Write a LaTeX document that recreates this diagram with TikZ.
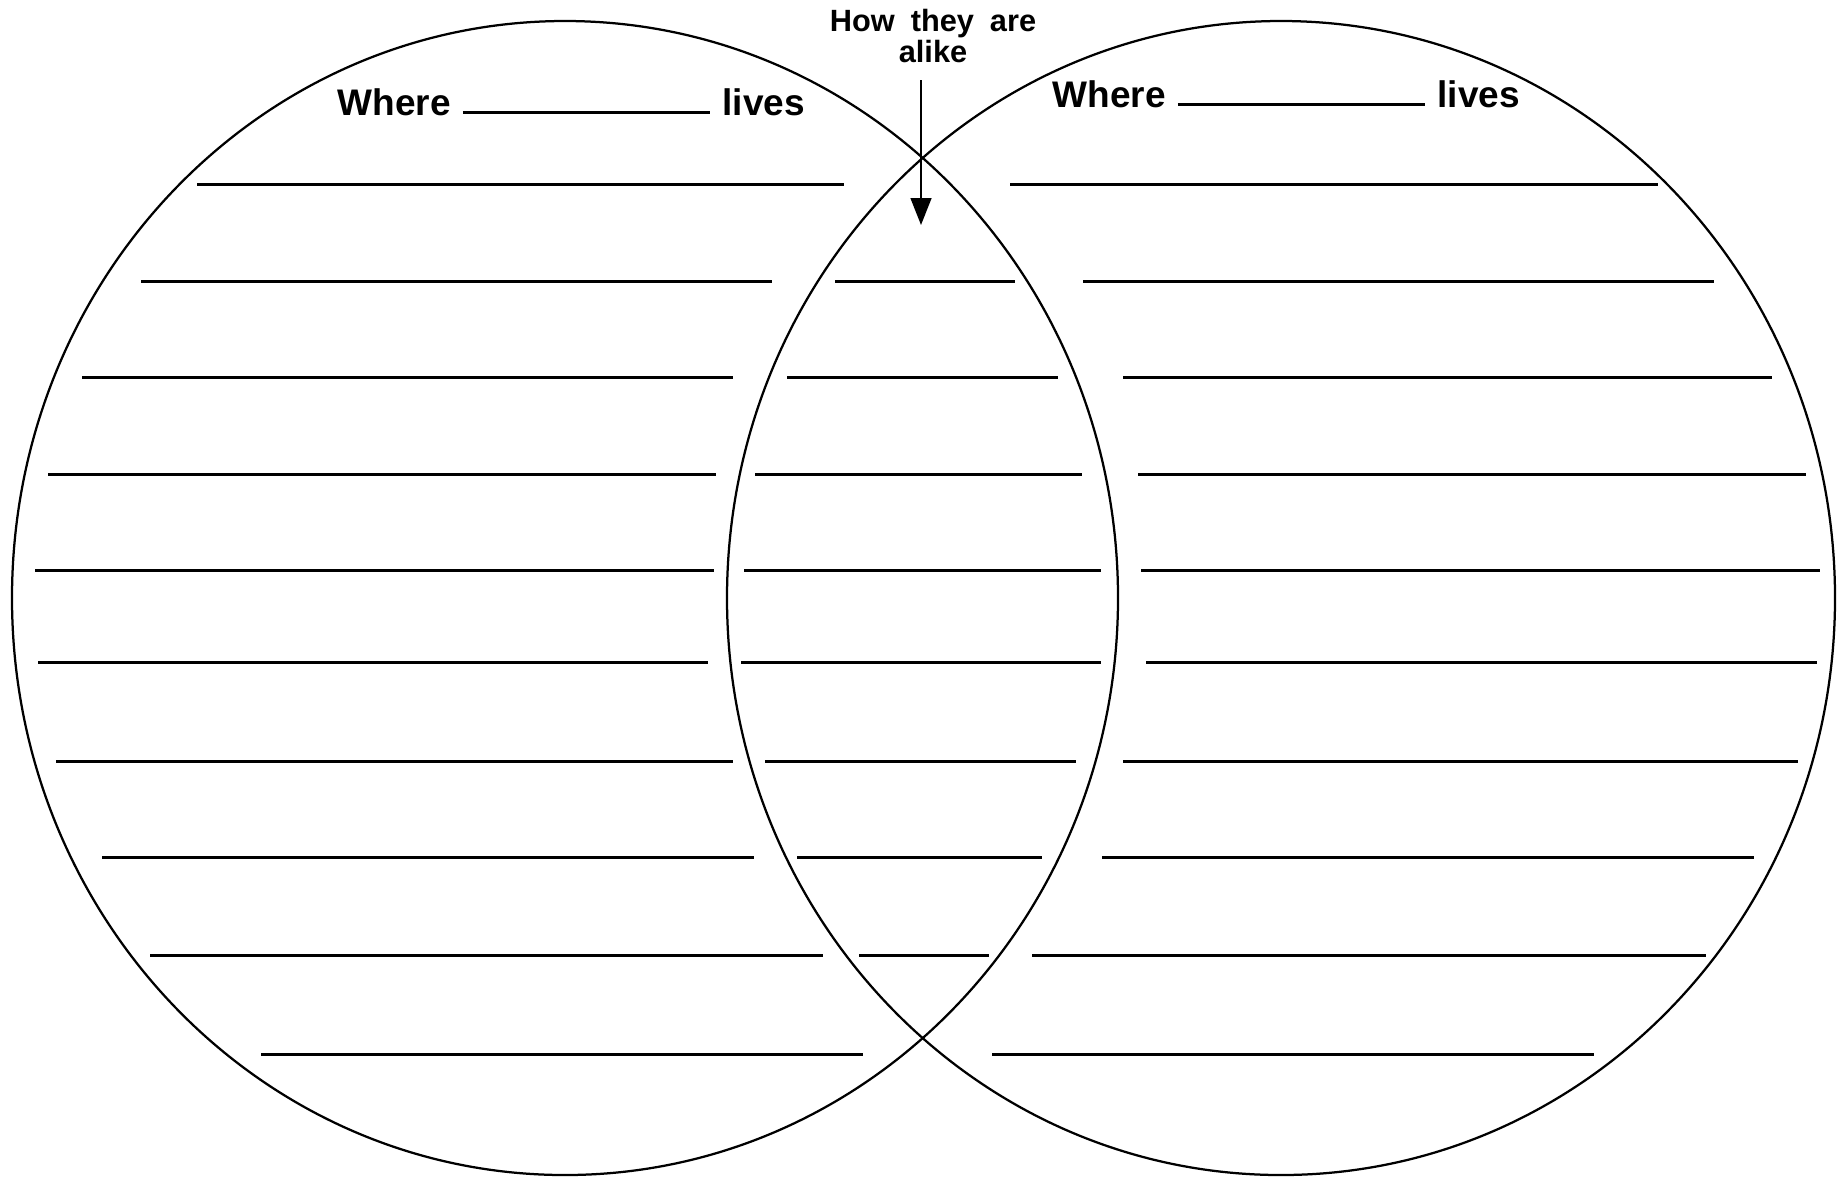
\documentclass[tikz,border=0pt]{standalone}
\usepackage{fontspec}
\setmainfont{Liberation Sans}
\usetikzlibrary{arrows.meta}

\begin{document}
\begin{tikzpicture}[
  x = 0.4pt, y = -0.4pt,
  venn/.style      = {line width=0.9pt},
  wline/.style     = {line width=1.2pt},
  heading/.style   = {anchor=base west, inner sep=0pt,
                      font=\fontsize{14.8}{17}\selectfont\bfseries},
  alikehead/.style = {anchor=north, align=center, inner sep=0pt,
                      font=\fontsize{12.3}{12.4}\selectfont\bfseries},
  pointer/.style   = {-{Triangle[length=10.8pt,width=8.3pt]}, line width=0.9pt},
]
\useasboundingbox (0,0) rectangle (1838,1176);

% The two circles
\draw[venn] (565,598)  ellipse [x radius=553, y radius=577];
\draw[venn] (1281,598) ellipse [x radius=554, y radius=577];

% Headings
\node[heading] (lefthead)  at (337,115)
  {Where\hspace{0.33em}\rule[0.3pt]{99pt}{1.2pt}\hspace{0.33em}lives};
\node[heading] (righthead) at (1052,107)
  {Where\hspace{0.33em}\rule[0.3pt]{99pt}{1.2pt}\hspace{0.33em}lives};
\node[alikehead] (alike) at (933,9)
  {How\hspace{0.52em}they\hspace{0.52em}are\\alike};

% Pointer into the overlap
\coordinate (arrtop) at (921,80);
\coordinate (arrtip) at (921,225);
\draw[pointer] (arrtop) -- (arrtip);

% Left column: writing lines
\draw[wline] (197,184)  -- (844,184);
\draw[wline] (141,281)  -- (772,281);
\draw[wline] (82,377)   -- (733,377);
\draw[wline] (48,474)   -- (716,474);
\draw[wline] (35,570)   -- (714,570);
\draw[wline] (38,662)   -- (708,662);
\draw[wline] (56,761)   -- (733,761);
\draw[wline] (102,857)  -- (754,857);
\draw[wline] (150,955)  -- (823,955);
\draw[wline] (261,1054) -- (863,1054);

% Middle: writing lines in the overlap
\draw[wline] (835,281)  -- (1015,281);
\draw[wline] (787,377)  -- (1058,377);
\draw[wline] (755,474)  -- (1082,474);
\draw[wline] (744,570)  -- (1101,570);
\draw[wline] (741,662)  -- (1101,662);
\draw[wline] (765,761)  -- (1076,761);
\draw[wline] (797,857)  -- (1042,857);
\draw[wline] (859,955)  -- (989,955);

% Right column: writing lines
\draw[wline] (1010,184) -- (1658,184);
\draw[wline] (1083,281) -- (1714,281);
\draw[wline] (1123,377) -- (1772,377);
\draw[wline] (1138,474) -- (1806,474);
\draw[wline] (1141,570) -- (1820,570);
\draw[wline] (1146,662) -- (1817,662);
\draw[wline] (1123,761) -- (1798,761);
\draw[wline] (1102,857) -- (1754,857);
\draw[wline] (1032,955) -- (1706,955);
\draw[wline] (992,1054) -- (1594,1054);

\end{tikzpicture}
\end{document}
